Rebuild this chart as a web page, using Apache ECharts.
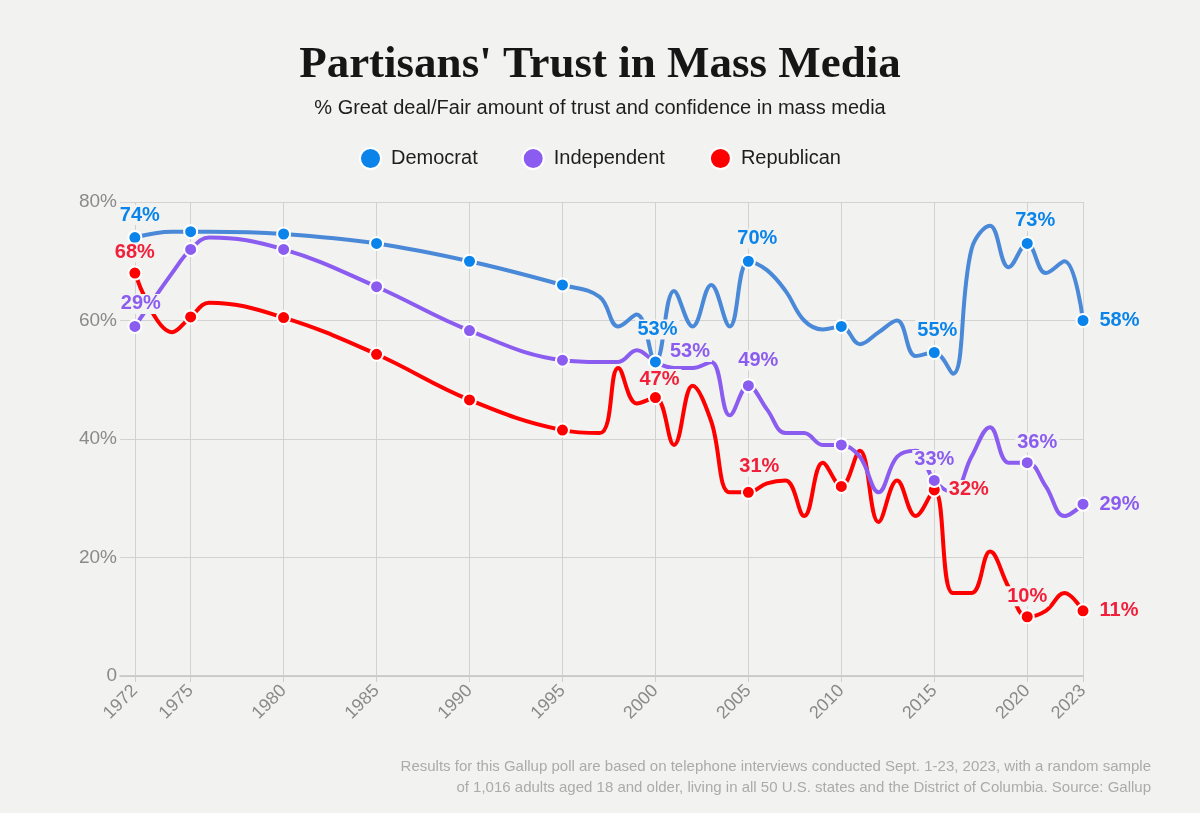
<!DOCTYPE html>
<html>
<head>
<meta charset="utf-8">
<script src="https://cdn.jsdelivr.net/npm/echarts@6/dist/echarts.min.js"></script>
<style>
  html, body { margin: 0; padding: 0; background: #f2f2f0; }
  #chart { width: 1200px; height: 813px; }
</style>
</head>
<body>
<div id="chart"></div>
<script>
// Données (Gallup)
const years = [1972, 1974, 1975, 1976, 1980, 1985, 1990, 1995,
  1997, 1998, 1999, 2000, 2001, 2002, 2003, 2004, 2005, 2006, 2007, 2008, 2009, 2010,
  2011, 2012, 2013, 2014, 2015, 2016, 2017, 2018, 2019, 2020, 2021, 2022, 2023];
const democrat = [74, 75, 75, 75, 74.6, 73, 70, 66,
  64, 59, 61, 53, 65, 59, 66, 59, 70, 68.5, 65, 60, 58.5, 59,
  56, 58, 60, 54, 54.6, 51, 72, 76, 69, 73, 68, 70, 60];
const independent = [59, 68, 72, 74, 72, 65.7, 58.3, 53.3,
  53, 53, 55, 53, 52, 52, 53, 44, 49, 45, 41, 41, 39, 39,
  37, 31, 37, 38, 33, 31, 37, 42, 36, 36, 32, 27, 29];
const republican = [68, 58, 60.6, 63, 60.5, 54.3, 46.6, 41.5,
  41, 52, 46, 47, 39, 49, 43, 31, 31, 32.5, 33, 27, 36, 32,
  38, 26, 33, 27, 31.4, 14, 14, 21, 15, 10, 11, 14, 11];

const tickYears = [1972, 1975, 1980, 1985, 1990, 1995, 2000, 2005, 2010, 2015, 2020, 2023];
const markerYears = tickYears;

// Étiquettes affichées (texte d'origine)
const demLabels = {1972: '74%', 2000: '53%', 2005: '70%', 2015: '55%', 2020: '73%', 2023: '58%'};
const indLabels = {1972: '29%', 2000: '53%', 2005: '49%', 2015: '33%', 2020: '36%', 2023: '29%'};
const repLabels = {1972: '68%', 2000: '47%', 2005: '31%', 2015: '32%', 2020: '10%', 2023: '11%'};

// Placement des étiquettes (style)
const demPlace = {1972: ['top', [5, 0]], 2000: ['top', [2, -10]], 2005: ['top', [9, 0]], 2015: ['top', [3, 0]], 2020: ['top', [8, 0]], 2023: ['right', [2, 0]]};
const indPlace = {1972: ['top', [6, 0]], 2000: ['right', [0, -10]], 2005: ['top', [10, -3]], 2015: ['top', [0, 2]], 2020: ['top', [10, 2]], 2023: ['right', [2, 0]]};
const repPlace = {1972: ['top', [0, 2]], 2000: ['top', [4, 4]], 2005: ['top', [11, -3]], 2015: ['right', [0, 0]], 2020: ['top', [0, 2]], 2023: ['right', [2, 0]]};

const PAGE = '#f2f2f0';
const FONT = "'Liberation Sans', Arial, sans-serif";
const NOTE = 'Results for this Gallup poll are based on telephone interviews conducted Sept. 1-23, 2023, with a random sample\n' +
  'of 1,016 adults aged 18 and older, living in all 50 U.S. states and the District of Columbia. Source: Gallup';

function buildData(values, labels, place, color) {
  return years.map(function (y, i) {
    const item = { value: [y, values[i]] };
    if (labels[y]) {
      item.label = {
        show: true,
        formatter: labels[y],
        position: place[y][0],
        offset: place[y][1],
        color: color,
        fontWeight: 'bold',
        fontSize: 20,
        fontFamily: FONT,
        backgroundColor: PAGE,
        padding: [0, 2]
      };
    }
    return item;
  });
}

function makeSeries(name, values, labels, place, lineColor, dotColor, labelColor) {
  return {
    name: name,
    type: 'line',
    smooth: 0.4,
    data: buildData(values, labels, place, labelColor),
    symbol: 'circle',
    symbolSize: function (val) {
      return markerYears.includes(val[0]) ? 13 : 0;
    },
    lineStyle: { color: lineColor, width: 4 },
    itemStyle: { color: dotColor, borderColor: '#ffffff', borderWidth: 2 },
    emphasis: { disabled: true }
  };
}

const chart = echarts.init(document.getElementById('chart'), null, { renderer: 'canvas' });

const option = {
  backgroundColor: PAGE,
  animation: false,
  title: [
    {
      text: "Partisans' Trust in Mass Media",
      left: 'center',
      top: 38,
      textStyle: { fontFamily: "'Liberation Serif', 'Times New Roman', serif", fontWeight: 'bold', fontSize: 45, color: '#161616' }
    },
    {
      text: '% Great deal/Fair amount of trust and confidence in mass media',
      left: 'center',
      top: 93,
      textStyle: { fontFamily: FONT, fontWeight: 'normal', fontSize: 20, color: '#1e1e1e' }
    }
  ],
  graphic: [
    {
      type: 'text',
      x: 1151,
      y: 756,
      silent: true,
      style: {
        text: NOTE,
        textAlign: 'right',
        fill: '#ababab',
        font: "15px 'Liberation Sans', Arial, sans-serif",
        lineHeight: 21
      }
    }
  ],
  legend: {
    top: 142,
    left: 'center',
    icon: 'circle',
    itemWidth: 21,
    itemHeight: 21,
    itemGap: 44,
    textStyle: { fontFamily: FONT, fontSize: 20, color: '#1e1e1e', padding: [0, 0, 0, 5] },
    data: ['Democrat', 'Independent', 'Republican']
  },
  grid: { left: 120, right: 117, top: 202, bottom: 137, containLabel: false },
  xAxis: {
    type: 'value',
    min: 1971.2,
    max: 2023,
    axisLine: { show: true, lineStyle: { color: '#c4c4c4', width: 1.5 } },
    axisTick: { show: true, length: 6, customValues: tickYears, lineStyle: { color: '#cfcfcf' } },
    axisLabel: {
      customValues: tickYears,
      rotate: 45,
      margin: 12,
      color: '#8a8a8a',
      fontSize: 18,
      fontFamily: FONT,
      formatter: function (v) { return String(v); }
    },
    splitLine: { show: true, lineStyle: { color: '#d2d2d2', width: 1 } }
  },
  yAxis: {
    type: 'value',
    min: 0,
    max: 80,
    interval: 20,
    axisLine: { show: false },
    axisTick: { show: false },
    axisLabel: {
      margin: 3,
      color: '#8a8a8a',
      fontSize: 19,
      fontFamily: FONT,
      formatter: function (v) { return v === 0 ? '0' : v + '%'; }
    },
    splitLine: { show: true, lineStyle: { color: '#d2d2d2', width: 1 } }
  },
  // Ordre de dessin : républicains dessous, démocrates dessus
  series: [
    makeSeries('Republican', republican, repLabels, repPlace, '#ff0000', '#ff0000', '#f21f3a'),
    makeSeries('Independent', independent, indLabels, indPlace, '#8b5cf0', '#8b5cf0', '#8b5cf0'),
    makeSeries('Democrat', democrat, demLabels, demPlace, '#4a88d8', '#0a84ea', '#0a84ea')
  ]
};

chart.setOption(option);
window.addEventListener('resize', chart.resize);
</script>
</body>
</html>
